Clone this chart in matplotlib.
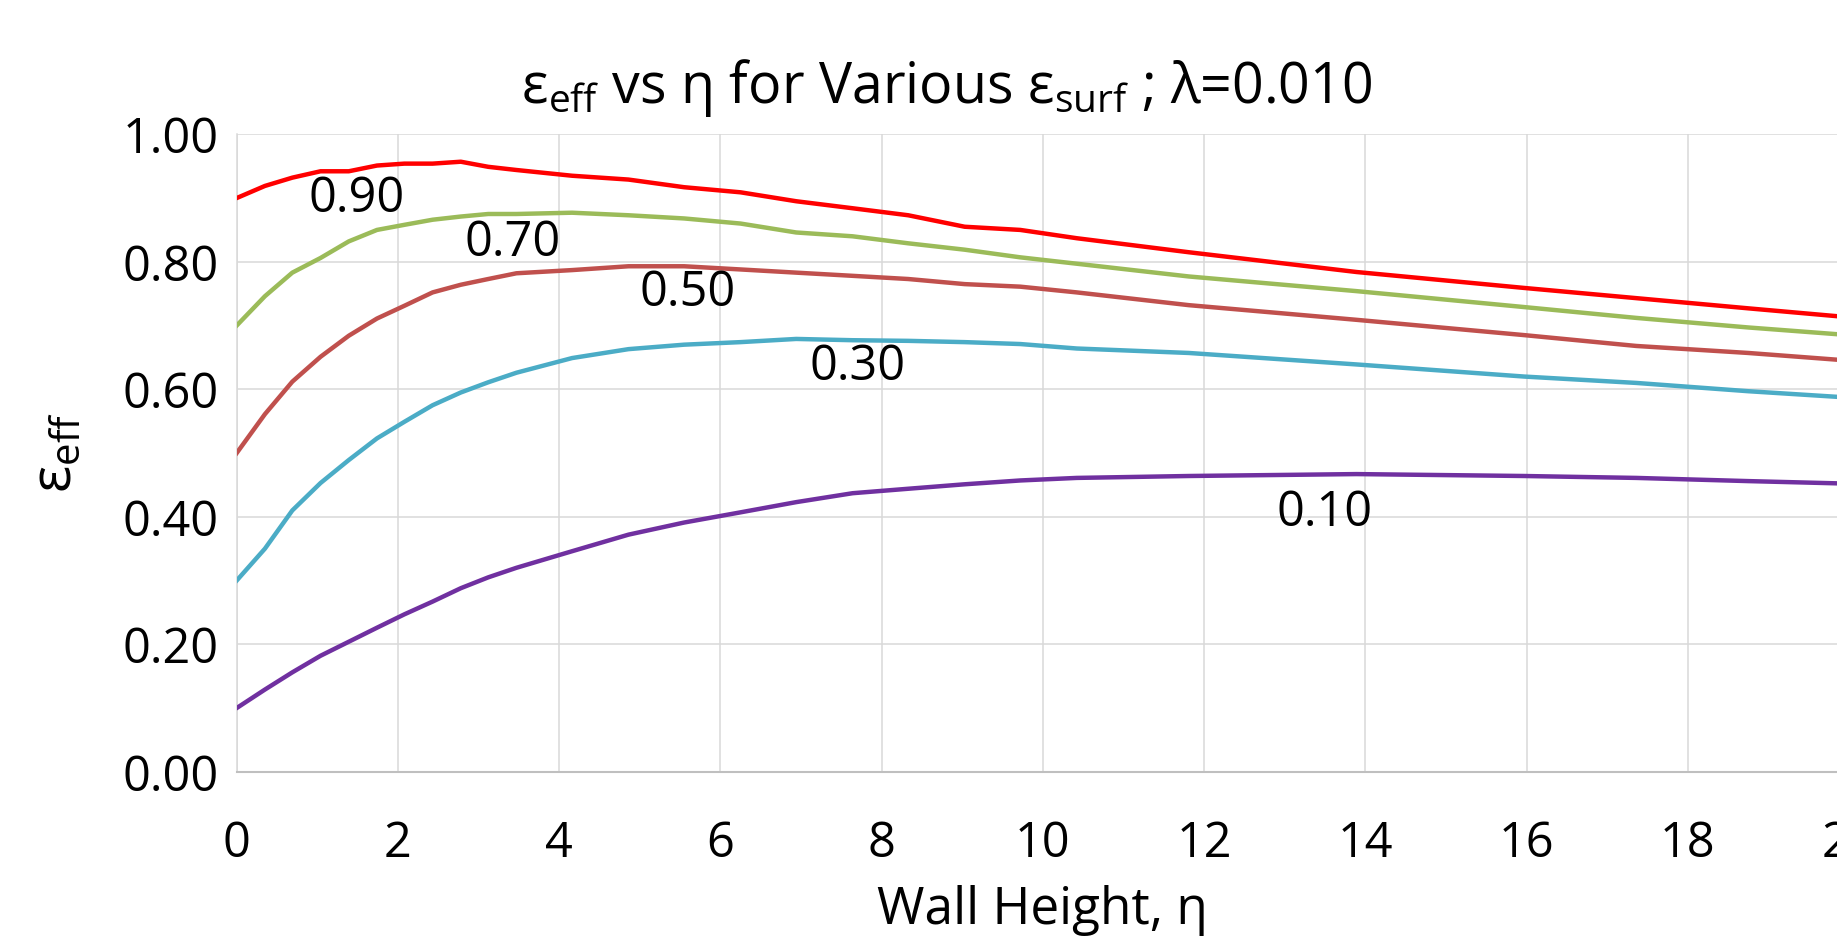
import matplotlib
matplotlib.use("Agg")
import matplotlib.pyplot as plt

plt.rcParams['font.family'] = ['Open Sans', 'DejaVu Sans']
plt.rcParams['mathtext.fontset'] = 'custom'
plt.rcParams['mathtext.rm'] = 'Open Sans'
plt.rcParams['mathtext.it'] = 'Open Sans'

# wall height (eta) samples
eta = [0, 0.35, 0.69, 1.04, 1.39, 1.74, 2.08, 2.43, 2.78, 3.12, 3.47, 4.16, 4.86,
       5.55, 6.25, 6.94, 7.64, 8.33, 9.03, 9.72, 10.42, 11.81, 13.89, 15.97,
       17.36, 18.75, 20.0]

# eps_eff for each eps_surf
eff_090 = [0.900, 0.919, 0.932, 0.942, 0.942, 0.951, 0.954, 0.954, 0.957, 0.949,
           0.944, 0.935, 0.929, 0.917, 0.909, 0.895, 0.884, 0.873, 0.855, 0.850,
           0.837, 0.815, 0.784, 0.759, 0.743, 0.727, 0.713]
eff_070 = [0.700, 0.746, 0.783, 0.806, 0.832, 0.850, 0.858, 0.866, 0.871, 0.875,
           0.875, 0.877, 0.873, 0.868, 0.860, 0.846, 0.840, 0.829, 0.819, 0.807,
           0.797, 0.777, 0.754, 0.729, 0.712, 0.697, 0.685]
eff_050 = [0.500, 0.561, 0.612, 0.651, 0.684, 0.711, 0.731, 0.752, 0.764, 0.773,
           0.782, 0.787, 0.793, 0.793, 0.788, 0.783, 0.778, 0.773, 0.765, 0.761,
           0.752, 0.732, 0.709, 0.685, 0.668, 0.657, 0.645]
eff_030 = [0.300, 0.350, 0.410, 0.453, 0.489, 0.523, 0.549, 0.575, 0.595, 0.611,
           0.626, 0.649, 0.663, 0.670, 0.674, 0.679, 0.677, 0.676, 0.674, 0.671,
           0.664, 0.657, 0.639, 0.620, 0.610, 0.597, 0.587]
eff_010 = [0.100, 0.129, 0.156, 0.182, 0.204, 0.226, 0.247, 0.267, 0.288, 0.305,
           0.320, 0.346, 0.372, 0.391, 0.407, 0.423, 0.437, 0.444, 0.451, 0.457,
           0.461, 0.464, 0.467, 0.464, 0.461, 0.456, 0.452]

series = [eff_090, eff_070, eff_050, eff_030, eff_010]
labels = ['0.90', '0.70', '0.50', '0.30', '0.10']
colors = ['#FF0000', '#9BBB59', '#C0504D', '#4BACC6', '#7030A0']
# where the curve labels sit (eta, eps)
label_pos = [(1.49, 0.898), (3.42, 0.829), (5.59, 0.751), (7.70, 0.635), (13.5, 0.405)]

fig = plt.figure(figsize=(18.37, 9.47), dpi=100)
ax = fig.add_axes([0.12885, 0.18501, 0.8777, 0.67317])

for y, c in zip(series, colors):
    ax.plot(eta, y, color=c, lw=3.2, solid_joinstyle='round', zorder=3)
for (lx, ly), t in zip(label_pos, labels):
    ax.text(lx, ly, t, fontsize=35, ha='center', va='center', zorder=4)

ax.set_xlim(0, 20)
ax.set_ylim(0, 1.0)
ax.set_xticks(range(0, 21, 2))
ax.set_yticks([0, 0.2, 0.4, 0.6, 0.8, 1.0])
ax.set_yticklabels(['%.2f' % v for v in [0, 0.2, 0.4, 0.6, 0.8, 1.0]])
ax.grid(True, color='#D9D9D9', lw=1.1)
ax.set_axisbelow(True)
for s in ['top', 'right']:
    ax.spines[s].set_visible(False)
ax.spines['left'].set_color('#D9D9D9')
ax.spines['left'].set_linewidth(1.1)
ax.spines['bottom'].set_color('#BFBFBF')
ax.spines['bottom'].set_linewidth(1.5)
ax.tick_params(axis='both', length=0, labelsize=35)
ax.tick_params(axis='x', pad=34)
ax.tick_params(axis='y', pad=13)

ax.set_xlabel('Wall Height, η', fontsize=37)
ax.xaxis.set_label_coords(0.5, -0.178)
ax.set_ylabel(r'$\mathregular{ε_{eff}}$', fontsize=41)
ax.yaxis.set_label_coords(-0.094, 0.5)

fig.text(947 / 1837, 1 - 103 / 947,
         r'$\mathregular{ε_{eff}}$ vs η for Various $\mathregular{ε_{surf}}$ ; λ=0.010',
         fontsize=40, ha='center', va='baseline')

fig.savefig('out.png', dpi=100)
